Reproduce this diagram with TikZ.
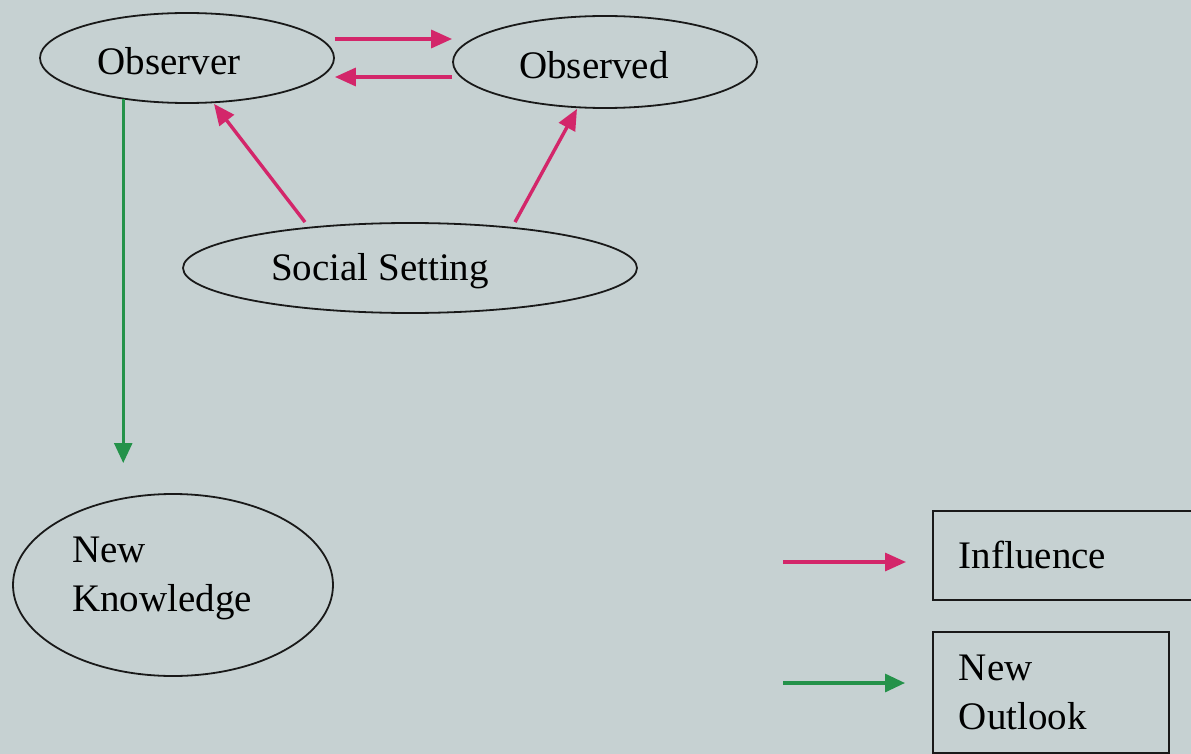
\documentclass[tikz,border=0pt]{standalone}
\usepackage{fontspec}
\setmainfont{Liberation Serif}
\usetikzlibrary{arrows.meta,shapes.geometric}
\definecolor{paper}{HTML}{C6D1D2}
\definecolor{inflcol}{HTML}{D3266A}
\definecolor{newcol}{HTML}{24924A}
\tikzset{
  oval/.style={ellipse, draw=black!90, line width=1.8pt, inner sep=0pt},
  boxnode/.style={rectangle, draw=black!90, line width=1.8pt, anchor=north west,
    inner xsep=26pt, align=left, font=\fontsize{39}{49}\selectfont},
  lbl/.style={font=\fontsize{39}{49}\selectfont, align=left},
  inflarrow/.style={draw=inflcol, line width=3.4pt,
    -{Triangle[length=21pt,width=18pt]}, color=inflcol},
  newarrow/.style={draw=newcol, line width=2.6pt,
    -{Triangle[length=20pt,width=18pt]}, color=newcol},
}
\begin{document}
\begin{tikzpicture}[x=1pt,y=-1pt]
  \fill[paper] (0,0) rectangle (1191,754);
  \useasboundingbox (0,0) rectangle (1191,754);

  % the three parties of the observation
  \node[oval, minimum width=294pt, minimum height=90pt,
        label={[lbl,xshift=-18pt,yshift=-3pt]center:Observer}] (obs) at (187,58) {};
  \node[oval, minimum width=304pt, minimum height=92pt,
        label={[lbl,xshift=-11pt,yshift=-3pt]center:Observed}] (obsd) at (605,62) {};
  \node[oval, minimum width=454pt, minimum height=90pt,
        label={[lbl,xshift=-30pt,yshift=-3pt]center:Social Setting}] (soc) at (410,268) {};

  % outcome
  \node[oval, minimum width=320pt, minimum height=182pt,
        label={[lbl,xshift=-11pt,yshift=7pt]center:New\\Knowledge}] (know) at (173,585) {};

  % legend boxes
  \clip (0,0) rectangle (1191,754);
  \node[boxnode, text width=215pt, minimum height=89pt] (infl) at (932,510) {Influence};
  \node[boxnode, text width=184pt, minimum height=121pt] (outl) at (932,631) {New\\Outlook};

  % influences
  \draw[inflarrow] ([yshift=19pt]obs.east) -- ([yshift=23pt]obsd.west);
  \draw[inflarrow] ([yshift=-15pt]obsd.west) -- ([yshift=-19pt]obs.east);
  \draw[inflarrow] ([xshift=-105pt]soc.north) -- ([xshift=27pt]obs.south);
  \draw[inflarrow] ([xshift=105pt]soc.north) -- ([xshift=-28pt]obsd.south);

  % observer gains new knowledge
  \coordinate (kend) at (124,463);
  \draw[newarrow] (obs.213) -- (obs.213 |- kend);

  % legend arrows
  \coordinate (li0) at (783,562);
  \coordinate (li1) at (906,562);
  \coordinate (lo0) at (783,683);
  \coordinate (lo1) at (905,683);
  \draw[inflarrow, line width=3.2pt] (li0) -- (li1);
  \draw[newarrow, line width=3.2pt] (lo0) -- (lo1);
\end{tikzpicture}
\end{document}
